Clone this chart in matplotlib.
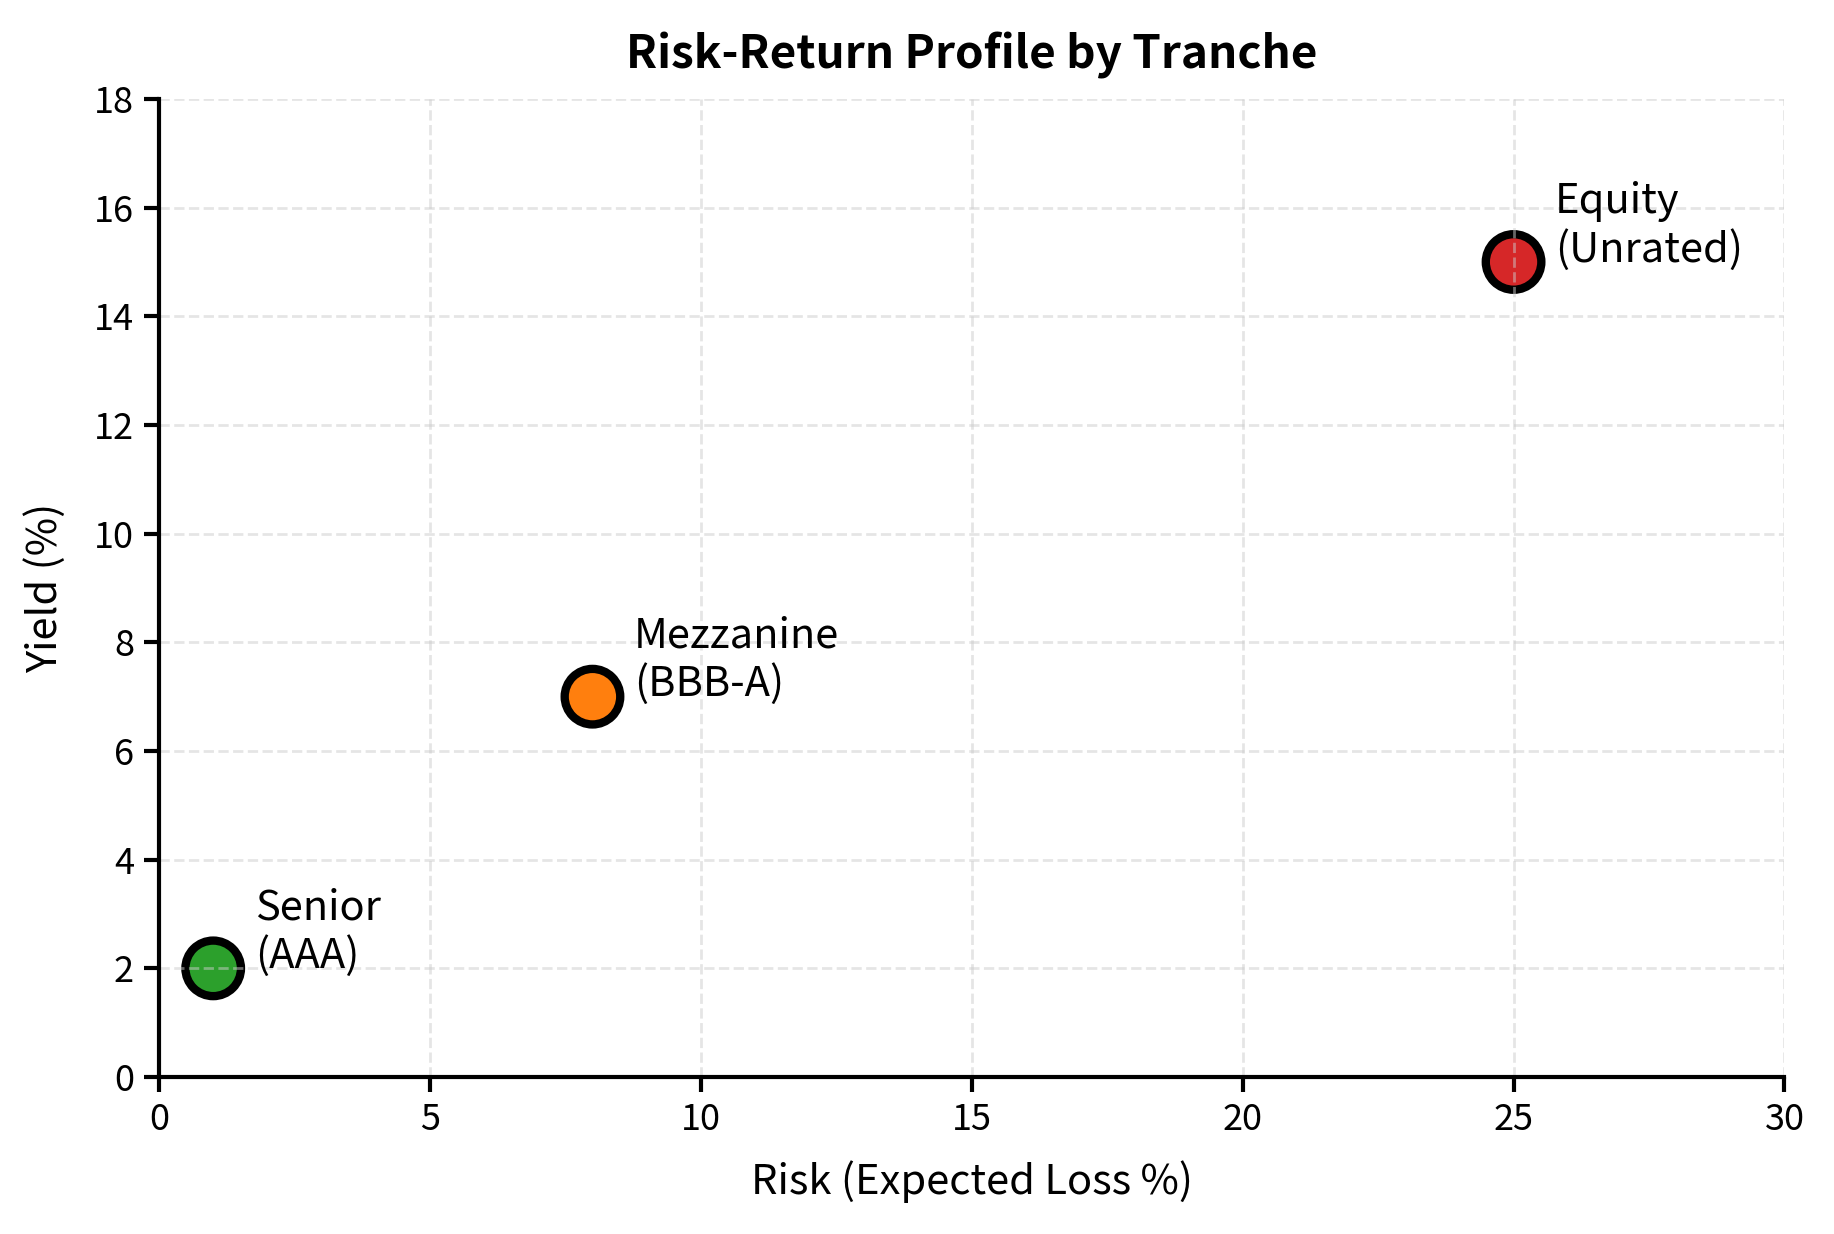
import matplotlib
matplotlib.use("Agg")
import matplotlib.pyplot as plt

plt.rcParams['font.family'] = ['Noto Sans CJK SC', 'DejaVu Sans']

tranches = ["Senior\n(AAA)", "Mezzanine\n(BBB-A)", "Equity\n(Unrated)"]
risk = [1, 8, 25]
yield_pct = [2, 7, 15]
colors = ["#2ca02c", "#ff7f0e", "#d62728"]

fig, ax = plt.subplots(figsize=(9.17, 6.17), dpi=200)
fig.subplots_adjust(left=0.0867, right=0.9730, top=0.9198, bottom=0.1272)

ax.scatter(risk, yield_pct, s=400, c=colors, edgecolors="black", linewidths=3)
for x, y, lab in zip(risk, yield_pct, tranches):
    ax.annotate(lab, (x, y), xytext=(15, 13), textcoords="offset points",
                fontsize=15, va="center", ha="left")

ax.set_xlim(0, 30)
ax.set_ylim(0, 18)
ax.set_xticks(range(0, 31, 5))
ax.set_yticks(range(0, 19, 2))
ax.tick_params(labelsize=13, length=5.5, width=1.5)
ax.grid(True, linestyle="--", alpha=0.5, color="#cccccc", linewidth=1)
ax.spines["top"].set_visible(False)
ax.spines["right"].set_visible(False)
ax.spines["left"].set_linewidth(1.5)
ax.spines["bottom"].set_linewidth(1.5)
ax.set_xlabel("Risk (Expected Loss %)", fontsize=15, labelpad=8)
ax.set_ylabel("Yield (%)", fontsize=15, labelpad=10)
ax.set_title("Risk-Return Profile by Tranche", fontsize=16.5, fontweight="bold", pad=11)

fig.savefig("out.png", dpi=200)
